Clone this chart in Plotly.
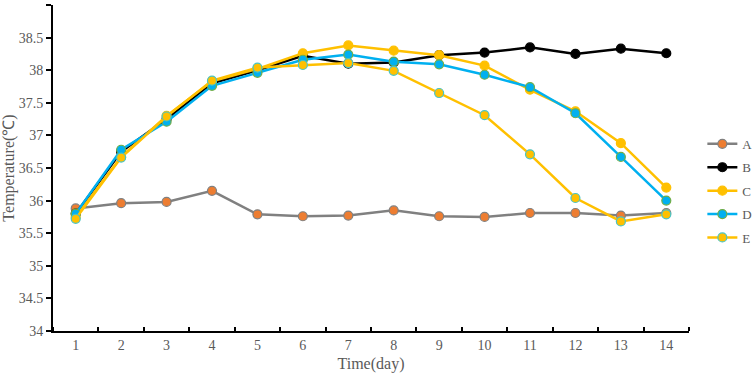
import plotly.graph_objects as go

days = list(range(1, 15))
A = [35.88, 35.96, 35.98, 36.15, 35.79, 35.76, 35.77, 35.85, 35.76, 35.75, 35.81, 35.81, 35.77, 35.81]
B = [35.80, 36.75, 37.25, 37.80, 38.00, 38.22, 38.10, 38.12, 38.23, 38.27, 38.35, 38.25, 38.33, 38.26]
C = [35.75, 36.67, 37.30, 37.83, 38.02, 38.26, 38.38, 38.30, 38.23, 38.07, 37.70, 37.37, 36.88, 36.20]
D = [35.80, 36.78, 37.21, 37.76, 37.96, 38.16, 38.24, 38.13, 38.09, 37.93, 37.74, 37.34, 36.67, 36.00]
E = [35.72, 36.66, 37.29, 37.84, 38.04, 38.08, 38.11, 37.99, 37.65, 37.31, 36.71, 36.04, 35.68, 35.79]

series = [
    ("A", A, "#808080", "#ED7D31", "#808080"),
    ("B", B, "#000000", "#000000", "#000000"),
    ("C", C, "#FFC000", "#FFC000", "#FFC000"),
    ("D", D, "#00B0F0", "#00B0F0", "#70AD47"),
    ("E", E, "#FFC000", "#FFC000", "#4BC4C4"),
]

fig = go.Figure()
for name, vals, lc, mc, ec in series:
    fig.add_trace(go.Scatter(
        x=days, y=vals, name=name, mode="lines+markers", legendgroup=name,
        line=dict(color=lc, width=2.5),
        marker=dict(size=9, color=mc, line=dict(color=ec, width=1.2)),
    ))

font_family = "Times New Roman, Liberation Serif, serif"
fig.update_layout(
    width=755, height=377,
    margin=dict(l=53, r=66, t=5, b=46, autoexpand=False),
    paper_bgcolor="white", plot_bgcolor="white",
    font=dict(family=font_family, size=13, color="#595959"),
    showlegend=True,
    legend=dict(x=1.021, y=0.62, xanchor="left", yanchor="top",
                font=dict(family=font_family, size=13, color="#595959"),
                bgcolor="rgba(0,0,0,0)", tracegroupgap=3.5),
    xaxis=dict(
        range=[0.5, 14.5], tickmode="array", tickvals=days,
        ticktext=[str(d) for d in days],
        ticks="", showgrid=False, zeroline=False,
        showline=True, linecolor="black", linewidth=2,
        tickfont=dict(family=font_family, size=14, color="#595959"),
        minor=dict(tickmode="linear", tick0=0.5, dtick=1, ticks="inside",
                   ticklen=4, tickwidth=2, tickcolor="black", showgrid=False),
        title=dict(text="Time(day)", font=dict(family=font_family, size=16, color="#595959"), standoff=6),
    ),
    yaxis=dict(
        range=[34, 39], dtick=0.5, tick0=34,
        ticks="outside", ticklen=5, tickwidth=2, tickcolor="black",
        showgrid=False, zeroline=False,
        showline=True, linecolor="black", linewidth=2,
        tickfont=dict(family=font_family, size=14, color="#595959"),
        title=dict(text="Temperature(℃)", font=dict(family=font_family, size=16, color="#595959"), standoff=2),
    ),
)

fig.write_html("out.html")
